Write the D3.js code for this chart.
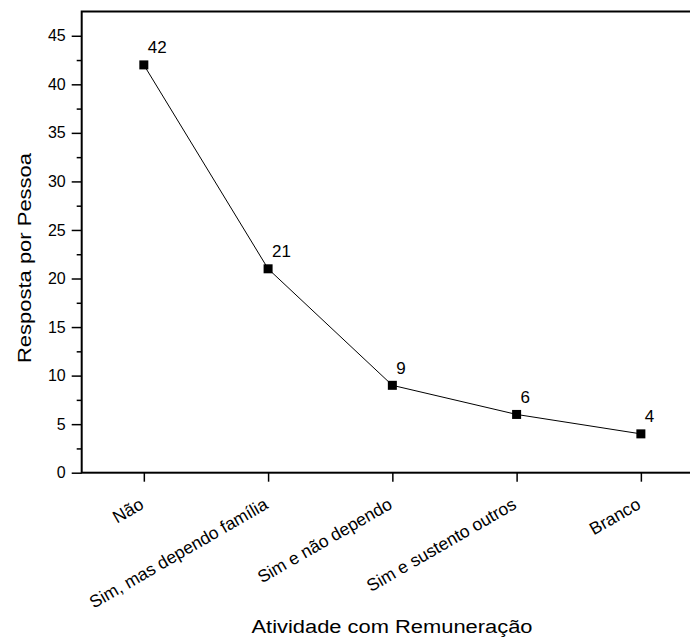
<!DOCTYPE html>
<html>
<head>
<meta charset="utf-8">
<script src="https://cdn.jsdelivr.net/npm/d3@7"></script>
<style>
  body { margin: 0; background: #fff; }
  svg { display: block; font-family: "Liberation Sans", Arial, sans-serif; }
</style>
</head>
<body>
<div id="chart"></div>
<script>
// categorias e valores
const categorias = ["Não", "Sim, mas dependo família", "Sim e não dependo", "Sim e sustento outros", "Branco"];
const respostas = [42, 21, 9, 6, 4];
const yTicks = [0, 5, 10, 15, 20, 25, 30, 35, 40, 45];

const width = 690, height = 640;
const margem = { esq: 81.7, dir: 703, sup: 11.5, inf: 472.7 };

const svg = d3.select("#chart").append("svg")
  .attr("width", width)
  .attr("height", height);

const x = d3.scalePoint().domain(categorias).range([margem.esq, margem.dir]).padding(0.5);
const y = d3.scaleLinear().domain([0, 47.5]).range([margem.inf, margem.sup]);

// moldura (a direita fica fora da imagem)
svg.append("rect")
  .attr("x", margem.esq).attr("y", margem.sup)
  .attr("width", margem.dir - margem.esq).attr("height", margem.inf - margem.sup)
  .attr("fill", "none").attr("stroke", "#000").attr("stroke-width", 2);

// eixo y com ticks menores
const yAxis = svg.append("g").attr("transform", `translate(${margem.esq},0)`);
yAxis.append("g").call(d3.axisLeft(y).tickValues(d3.range(2.5, 47.5, 5)).tickSize(5).tickFormat(""));
yAxis.append("g").call(d3.axisLeft(y).tickValues(yTicks).tickSize(10).tickPadding(6));
yAxis.selectAll(".domain").remove();
yAxis.selectAll("line").attr("stroke-width", 1.5);
yAxis.selectAll("text")
  .style("font-size", "16px")
  .style("font-family", "Liberation Sans, Arial, sans-serif")
  .attr("fill", "#000");

// eixo x
const xAxis = svg.append("g").attr("transform", `translate(0,${margem.inf})`);
xAxis.call(d3.axisBottom(x).tickSize(9).tickFormat(""));
xAxis.select(".domain").remove();
xAxis.selectAll("line").attr("stroke-width", 1.5);

svg.selectAll(".xlab")
  .data(categorias)
  .join("text")
  .attr("class", "xlab")
  .attr("transform", (d) => `translate(${x(d) + 1},${margem.inf + 35}) rotate(-30)`)
  .attr("text-anchor", "end")
  .style("font-size", "17.5px")
  .text((d) => d);

// linha e marcadores
const linha = d3.line()
  .x((d, i) => x(categorias[i]))
  .y((d) => y(d));

svg.append("path")
  .datum(respostas)
  .attr("d", linha)
  .attr("fill", "none")
  .attr("stroke", "#000")
  .attr("stroke-width", 1);

svg.selectAll(".ponto")
  .data(respostas)
  .join("rect")
  .attr("class", "ponto")
  .attr("x", (d, i) => x(categorias[i]) - 4.5)
  .attr("y", (d) => y(d) - 4.5)
  .attr("width", 9)
  .attr("height", 9)
  .attr("fill", "#000");

svg.selectAll(".valor")
  .data(respostas)
  .join("text")
  .attr("class", "valor")
  .attr("x", (d, i) => x(categorias[i]) + 4)
  .attr("y", (d) => y(d) - 11.5)
  .style("font-size", "17px")
  .text((d) => d);

// titulos dos eixos
svg.append("text")
  .attr("transform", "translate(31,258) rotate(-90)")
  .attr("text-anchor", "middle")
  .attr("textLength", 210)
  .attr("lengthAdjust", "spacingAndGlyphs")
  .style("font-size", "19px")
  .text("Resposta por Pessoa");

svg.append("text")
  .attr("x", 392)
  .attr("y", 633)
  .attr("text-anchor", "middle")
  .attr("textLength", 281)
  .attr("lengthAdjust", "spacingAndGlyphs")
  .style("font-size", "18px")
  .text("Atividade com Remuneração");
</script>
</body>
</html>
